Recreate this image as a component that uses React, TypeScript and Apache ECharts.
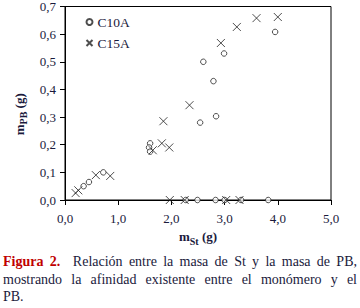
import React, { useEffect, useRef } from "react";
import * as echarts from "echarts";

const seriesNames = ["C10A", "C15A"];
const c10a: [number, number][] = [
  [0.35, 0.05], [0.45, 0.065], [0.72, 0.1],
  [1.6, 0.205], [1.58, 0.19], [1.6, 0.175],
  [2.54, 0.28], [2.84, 0.303], [2.79, 0.43], [2.6, 0.5], [2.99, 0.53], [3.95, 0.608],
  [2.27, 0], [2.49, 0], [2.83, 0], [3.0, 0], [3.31, 0], [3.82, 0],
];
const c15a: [number, number][] = [
  [0.2, 0.025], [0.25, 0.035], [0.58, 0.09], [0.85, 0.087],
  [1.65, 0.18], [1.82, 0.205], [1.96, 0.19], [1.85, 0.285],
  [2.34, 0.343], [2.93, 0.568], [3.23, 0.626], [3.6, 0.658], [4.0, 0.662],
  [1.97, 0], [2.25, 0], [3.03, 0], [3.28, 0],
];
const captionLabel = "Figura 2.";
const captionLines = [
  "Relación entre la masa de St y la masa de PB,",
  "mostrando la afinidad existente entre el monómero y el",
  "PB.",
];

const SERIF = "'Liberation Serif', 'DejaVu Serif', serif";
const TXT = "#1a1a3c";
const CROSS = "path://M0,0L10,10M10,0L0,10";

const fmt = (v: number) => v.toFixed(1).replace(".", ",");

const richName = {
  m: { fontFamily: SERIF, fontSize: 13, fontWeight: "bold", color: TXT, verticalAlign: "top", lineHeight: 16 },
  s: { fontFamily: SERIF, fontSize: 10, fontWeight: "bold", color: TXT, verticalAlign: "bottom", lineHeight: 16, padding: [4, 0, 0, 0] },
  g: { fontFamily: SERIF, fontSize: 13, fontWeight: "bold", color: TXT, verticalAlign: "top", lineHeight: 16 },
};

export default function App() {
  const ref = useRef<HTMLDivElement>(null);
  useEffect(() => {
    document.body.style.margin = "0";
    const chart = echarts.init(ref.current!, undefined, { renderer: "svg" });
    chart.setOption({
      animation: false,
      grid: { left: 65, top: 6, right: 29, bottom: 108, show: true, borderColor: "#000", borderWidth: 1 },
      legend: {
        left: 79, top: 10, orient: "vertical", itemGap: 7, itemWidth: 6, itemHeight: 6,
        textStyle: { fontFamily: SERIF, fontSize: 13.5, color: TXT },
        data: [
          { name: seriesNames[0], icon: "circle" },
          { name: seriesNames[1], icon: CROSS },
        ],
      },
      xAxis: {
        type: "value", min: 0, max: 5, interval: 1,
        axisLine: { show: true, lineStyle: { color: "#000", width: 1 } },
        axisTick: { show: true, length: 5, lineStyle: { color: "#000" } },
        splitLine: { show: false },
        axisLabel: { formatter: fmt, fontFamily: SERIF, fontSize: 13, color: TXT, margin: 12 },
        name: "{m|m}{s|St}{g| (g)}", nameLocation: "middle", nameGap: 30,
        nameTextStyle: { rich: richName },
      },
      yAxis: {
        type: "value", min: 0, max: 0.7, interval: 0.1,
        axisLine: { show: true, lineStyle: { color: "#000", width: 1 } },
        axisTick: { show: true, length: 5, lineStyle: { color: "#000" } },
        splitLine: { show: false },
        axisLabel: { formatter: fmt, fontFamily: SERIF, fontSize: 13, color: TXT, margin: 9 },
        name: "{m|m}{s|PB}{g| (g)}", nameLocation: "middle", nameGap: 29,
        nameTextStyle: { rich: richName, padding: [0, 22, 0, 0] },
      },
      series: [
        {
          name: seriesNames[0], type: "scatter", data: c10a, symbol: "circle", symbolSize: 5.5,
          itemStyle: { color: "#fff", borderColor: "#222", borderWidth: 1 },
        },
        {
          name: seriesNames[1], type: "scatter", data: c15a, symbol: CROSS, symbolSize: 8,
          itemStyle: { color: "none", borderColor: "#222", borderWidth: 1 },
        },
      ],
    });
    return () => chart.dispose();
  }, []);
  const lineStyle = (justify: boolean): React.CSSProperties => ({
    height: 17.5, whiteSpace: "nowrap", overflow: "visible",
    textAlign: justify ? "justify" : "left", textAlignLast: justify ? "justify" : "left",
  });
  return (
    <div style={{ position: "relative", width: 360, height: 308 }}>
      <div ref={ref} style={{ position: "absolute", left: 0, top: 0, width: 360, height: 308 }} />
      <div
        style={{
          position: "absolute", left: 3, top: 253, width: 354,
          fontFamily: SERIF, fontSize: 14, lineHeight: "17.5px", color: TXT,
        }}
      >
        <div style={{ ...lineStyle(true), whiteSpace: "normal" }}>
          <span style={{ color: "#c00000", fontWeight: "bold" }}>{captionLabel}</span>
          {"\u00a0 " + captionLines[0]}
        </div>
        <div style={{ ...lineStyle(true), whiteSpace: "normal" }}>{captionLines[1]}</div>
        <div style={lineStyle(false)}>{captionLines[2]}</div>
      </div>
    </div>
  );
}
